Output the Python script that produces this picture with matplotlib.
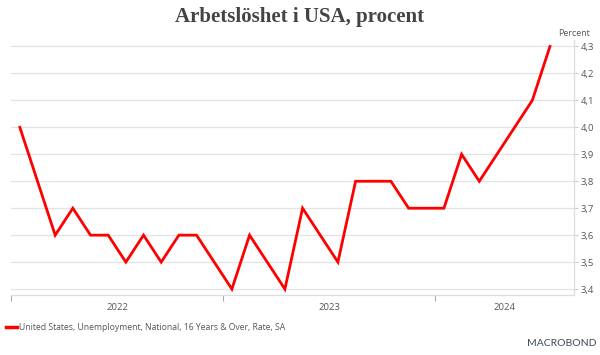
import matplotlib
matplotlib.use("Agg")
import matplotlib.pyplot as plt
import numpy as np

# Data: monthly US unemployment rate, Jan 2022 - Jul 2024
start_month = "2022-01"
rate = [4.0, 3.8, 3.6, 3.7, 3.6, 3.6, 3.5, 3.6, 3.5, 3.6, 3.6, 3.5,
        3.4, 3.6, 3.5, 3.4, 3.7, 3.6, 3.5, 3.8, 3.8, 3.8, 3.7, 3.7,
        3.7, 3.9, 3.8, 3.9, 4.0, 4.1, 4.3]
year_labels = ["2022", "2023", "2024"]
y_ticks = [3.4, 3.5, 3.6, 3.7, 3.8, 3.9, 4.0, 4.1, 4.2, 4.3]
title = "Arbetslöshet i USA, procent"
series_name = "United States, Unemployment, National, 16 Years & Over, Rate, SA"

W, H = 600, 355
fig = plt.figure(figsize=(W / 100, H / 100), dpi=100)
fig.patch.set_facecolor("white")

# axes in pixel coordinates
left, right, top, bottom = 11, 574, 40, 295
ax = fig.add_axes([left / W, 1 - bottom / H, (right - left) / W, (bottom - top) / H])

x = np.arange(len(rate))
ax.plot(x, rate, color="#ff0000", lw=2.0, solid_joinstyle="miter", zorder=3)

x_left = -0.47
x_right = 31.36
ax.set_xlim(x_left, x_right)
ax.set_ylim(3.378, 4.324)

gridc = "#e3e3e3"
for v in y_ticks:
    ax.axhline(v, color=gridc, lw=0.9, zorder=1)

for s in ["top", "left"]:
    ax.spines[s].set_visible(False)
ax.spines["bottom"].set_color("#dddddd")
ax.spines["bottom"].set_linewidth(0.9)
ax.spines["right"].set_color("#dddddd")
ax.spines["right"].set_linewidth(0.9)

txtc = "#555555"
lab_font = "Open Sans"
ax.yaxis.tick_right()
ax.set_yticks(y_ticks)
ax.set_yticklabels([f"{v:.1f}".replace(".", ",") for v in y_ticks],
                   fontsize=6.8, color=txtc, family=lab_font)
ax.tick_params(axis="y", length=3, width=0.8, color="#cccccc", pad=2)

# year boundary ticks
year_starts = [-0.5, 11.5, 23.5]
ax.set_xticks(year_starts)
ax.set_xticklabels([])
ax.tick_params(axis="x", length=4, width=0.8, color="#aaaaaa", direction="out")
ends = year_starts[1:] + [x_right]
for ys, ye, lab in zip(year_starts, ends, year_labels):
    ax.text((ys + ye) / 2, -0.05, lab, transform=ax.get_xaxis_transform(),
            ha="center", va="center", fontsize=6.8, color=txtc, family=lab_font)

fig.text(574 / W, 1 - 33 / H, "Percent", ha="center", va="center",
         fontsize=6.3, color=txtc, family=lab_font)

fig.text(0.5, 1 - 17 / H, title, ha="center", va="center",
         fontsize=15, fontweight="bold", color="#444444", family="Liberation Serif")

# legend
fig.add_artist(plt.Line2D([6 / W, 17 / W], [1 - 327 / H, 1 - 327 / H],
                          color="#ff0000", lw=2.5))
fig.text(19 / W, 1 - 327 / H, series_name, ha="left", va="center",
         fontsize=6.2, color=txtc, family=lab_font)

fig.text(596 / W, 1 - 344 / H, "MACROBOND", ha="right", va="center",
         fontsize=7.5, color="#3d4a5a", family="Lato")

fig.savefig("out.png", dpi=100, facecolor="white")
